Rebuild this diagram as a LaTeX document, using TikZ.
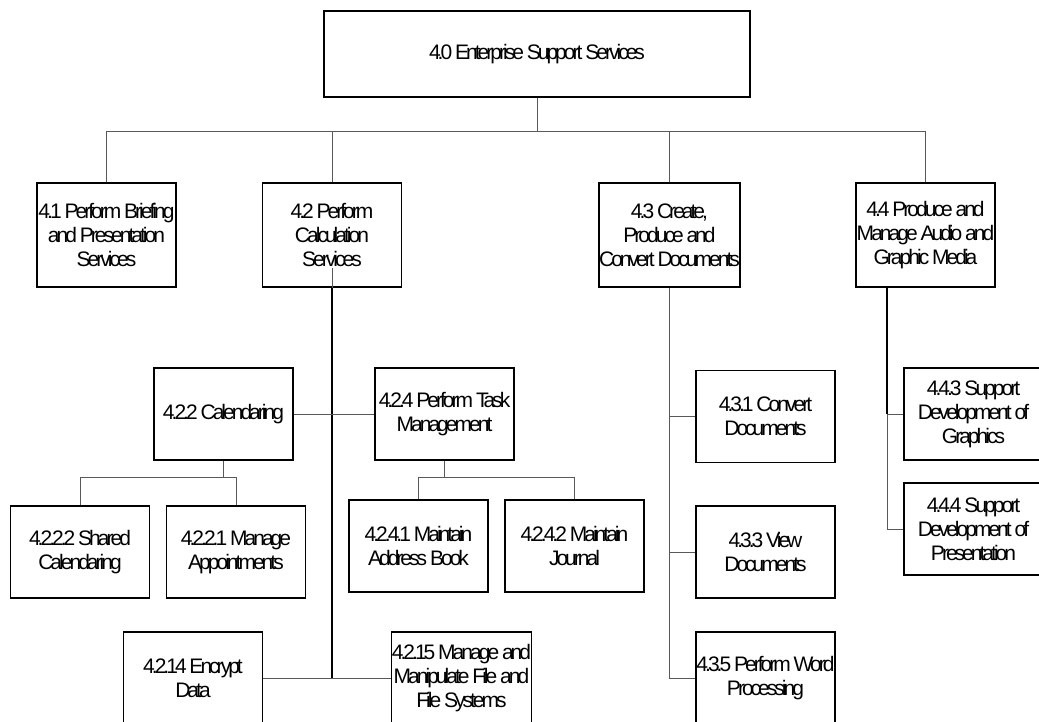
\documentclass[tikz,border=0pt]{standalone}
\usepackage{fontspec}
\setmainfont{Liberation Sans}[LetterSpace=-14.2]
\usetikzlibrary{calc}
\begin{document}
\begin{tikzpicture}[x=1pt,y=-1pt,
  box/.style={draw=black,line width=1.2pt,minimum width=139pt,minimum height=92pt,
    inner sep=0pt,align=center,font=\fontsize{21}{24}\selectfont},
  tallbox/.style={box,minimum height=104pt},
  link/.style={draw=black!65,line width=0.9pt},
  trunk/.style={draw=black,line width=1.4pt}]
\useasboundingbox (0,0) rectangle (1039,721);
\clip (0,0) rectangle (1039,721);

% root
\node[box,minimum width=426pt,minimum height=86pt] (top) at (537,54) {4.0 Enterprise Support Services};

% first level
\node[tallbox] (n41) at (106.5,235) {4.1 Perform Briefing\\and Presentation\\Services};
\node[tallbox] (n42) at (332,235) {4.2 Perform\\Calculation\\Services};
\node[tallbox] (n43) at (669.5,235) {4.3 Create,\\Produce and\\Convert Documents};
\node[tallbox] (n44) at (925.5,235) {4.4 Produce and\\Manage Audio and\\Graphic Media};

% under 4.2
\node[box] (n222) at (223.5,414) {4.2.2 Calendaring};
\node[box] (n224) at (444.5,414) {4.2.4 Perform Task\\Management};
\node[box] (n2222) at (80,552) {4.2.2.2 Shared\\Calendaring};
\node[box] (n2221) at (236,552) {4.2.2.1 Manage\\Appointments};
\node[box] (n2241) at (418.5,546) {4.2.4.1 Maintain\\Address Book};
\node[box] (n2242) at (574.5,546) {4.2.4.2 Maintain\\Journal};
\node[box] (n214) at (193,678) {4.2.14 Encrypt\\Data};
\node[box] (n215) at (461.5,678) {4.2.15 Manage and\\Manipulate File and\\File Systems};

% under 4.3
\node[box] (n431) at (765.5,416.5) {4.3.1 Convert\\Documents};
\node[box] (n433) at (765.5,552) {4.3.3 View\\Documents};
\node[box] (n435) at (765.5,678) {4.3.5 Perform Word\\Processing};

% under 4.4
\node[box] (n443) at (973.5,414) {4.4.3 Support\\Development of\\Graphics};
\node[box] (n444) at (973.5,529) {4.4.4 Support\\Development of\\Presentation};

% root to first level
\coordinate (b0) at ($(top.south)+(0,34)$);
\draw[link] (top.south) -- (b0);
\draw[link] (n41.north) |- (b0) -| (n44.north);
\draw[link] (n42.north) -- (n42.north |- b0);
\draw[link] (n43.north) -- (n43.north |- b0);

% 4.2 trunk
\draw[link] (n42.south) -- ++(0,-20);
\draw[trunk] (n42.south) -- (n42.south |- n214.east);
\draw[link] (n222.east) -- (n224.west);
\draw[link] (n214.east) -- (n215.west);

% 4.2.2 children
\coordinate (c22) at ($(n222.south)+(0,17)$);
\draw[link] (n222.south) -- (c22);
\draw[link] (n2222.north) |- (c22) -| (n2221.north);

% 4.2.4 children
\coordinate (c24) at ($(n224.south)+(0,17)$);
\draw[link] (n224.south) -- (c24);
\draw[link] (n2241.north) |- (c24) -| (n2242.north);

% 4.3 children
\draw[link] (n43.south) |- (n431.west);
\draw[link] (n43.south) |- (n433.west);
\draw[link] (n43.south) |- (n435.west);

% 4.4 children
\coordinate (t44) at ([xshift=-38.5pt]n44.south);
\draw[trunk,line width=1.2pt] (t44) -- (t44 |- n443.west);
\draw[link] (t44 |- n443.west) -- (n443.west);
\draw[link] (t44 |- n443.west) |- (n444.west);
\end{tikzpicture}
\end{document}
